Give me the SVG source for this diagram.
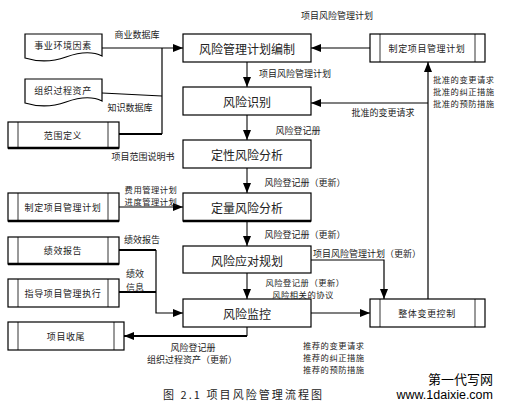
<svg xmlns="http://www.w3.org/2000/svg" width="512" height="408" viewBox="0 0 512 408">
<defs>
<marker id="ah" viewBox="0 0 10 8" refX="10" refY="4" markerWidth="10" markerHeight="8" markerUnits="userSpaceOnUse" orient="auto">
<path d="M0,0 L10,4 L0,8 Z" fill="#000"/>
</marker>
</defs>
<style>
text{font-family:"Noto Sans CJK SC","Liberation Sans",sans-serif;fill:#222;}
.box{fill:#fff;stroke:#000;stroke-width:1.2;}
.main{font-size:12px;text-anchor:middle;dominant-baseline:central;}
.side{font-size:9px;text-anchor:middle;dominant-baseline:central;letter-spacing:0.6px;}
.lbl{font-size:9px;dominant-baseline:central;}
.st{font-size:8.3px;letter-spacing:0.5px;}
.c{text-anchor:middle;}
.ln{fill:none;stroke:#000;stroke-width:1.2;}
.thick{fill:none;stroke:#000;stroke-width:2.2;}
.gray{fill:none;stroke:#555;stroke-width:1.6;}
.arr{marker-end:url(#ah);}
.inner{stroke:#000;stroke-width:0.8;}
.bot{stroke:#000;stroke-width:2.4;}
</style>
<rect width="512" height="408" fill="#fff"/>

<g id="connectors">
<path class="ln arr" d="M102,48 H183"/>
<path class="ln" d="M162,48 V134"/>
<path class="ln" d="M102,93 L162,96"/>
<path class="thick" d="M119,134 H162"/>
<path class="ln arr" d="M119,207 H183"/>
<path class="thick" d="M119,250 H156"/>
<path class="thick" d="M119,292 H156"/>
<path class="ln arr" d="M156,250 V313 H183"/>
<path class="gray arr" d="M247,62 V87"/>
<path class="gray arr" d="M247,115 V140"/>
<path class="gray arr" d="M247,168 V193"/>
<path class="gray arr" d="M247,221 V246"/>
<path class="gray arr" d="M247,273 V299"/>
<path class="gray" d="M247,327 V336"/>
<path class="thick arr" d="M247,336 H124"/>
<path class="ln arr" d="M370,48 H311"/>
<path class="ln arr" d="M428,299 V62"/>
<path class="ln arr" d="M428,103 H311"/>
<path class="ln arr" d="M311,260 H384 V299"/>
<path class="ln arr" d="M311,313 H370"/>
</g>

<g id="n-env">
<path class="box" d="M25,34 H102 V56 C92,51 80,52 66,57 C52,62 38,62 25,58 Z"/>
<text class="side" x="63" y="45">事业环境因素</text>
</g>
<g id="n-opa">
<path class="box" d="M25,79 H102 V101 C92,96 80,97 66,102 C52,107 38,107 25,103 Z"/>
<text class="side" x="63" y="90">组织过程资产</text>
</g>
<g id="n-scope">
<rect class="box" x="8" y="122" width="111" height="26"/>
<line class="inner" x1="18" y1="122" x2="18" y2="148"/>
<line class="inner" x1="108" y1="122" x2="108" y2="148"/>
<line class="bot" x1="8" y1="148" x2="119" y2="148"/>
<text class="side" x="63" y="135">范围定义</text>
</g>
<g id="n-pmp-left">
<rect class="box" x="8" y="193" width="111" height="28"/>
<line class="inner" x1="18" y1="193" x2="18" y2="221"/>
<line class="inner" x1="108" y1="193" x2="108" y2="221"/>
<line class="bot" x1="8" y1="221" x2="119" y2="221"/>
<text class="side" x="63" y="207">制定项目管理计划</text>
</g>
<g id="n-perf">
<rect class="box" x="8" y="237" width="111" height="27"/>
<line class="inner" x1="18" y1="237" x2="18" y2="264"/>
<line class="inner" x1="108" y1="237" x2="108" y2="264"/>
<line class="bot" x1="8" y1="264" x2="119" y2="264"/>
<text class="side" x="63" y="250">绩效报告</text>
</g>
<g id="n-direct">
<rect class="box" x="8" y="279" width="111" height="28"/>
<line class="inner" x1="18" y1="279" x2="18" y2="307"/>
<line class="inner" x1="108" y1="279" x2="108" y2="307"/>
<text class="side" x="63" y="293">指导项目管理执行</text>
</g>
<g id="n-close">
<rect class="box" x="8" y="322" width="116" height="28"/>
<line class="inner" x1="18" y1="322" x2="18" y2="350"/>
<line class="inner" x1="114" y1="322" x2="114" y2="350"/>
<text class="side" x="66" y="336">项目收尾</text>
</g>

<g id="n-plan">
<rect class="box" x="183" y="34" width="128" height="28"/>
<text class="main" x="247" y="48">风险管理计划编制</text>
</g>
<g id="n-ident">
<rect class="box" x="183" y="87" width="128" height="28"/>
<text class="main" x="247" y="101">风险识别</text>
</g>
<g id="n-qual">
<rect class="box" x="183" y="140" width="128" height="28"/>
<text class="main" x="247" y="154">定性风险分析</text>
</g>
<g id="n-quant">
<rect class="box" x="183" y="193" width="128" height="28"/>
<line class="bot" x1="183" y1="221" x2="311" y2="221"/>
<text class="main" x="247" y="207">定量风险分析</text>
</g>
<g id="n-resp">
<rect class="box" x="183" y="246" width="128" height="27"/>
<text class="main" x="247" y="260">风险应对规划</text>
</g>
<g id="n-monitor">
<rect class="box" x="183" y="299" width="128" height="28"/>
<text class="main" x="247" y="313">风险监控</text>
</g>

<g id="n-pmp-right">
<rect class="box" x="370" y="34" width="115" height="28"/>
<line class="inner" x1="380" y1="34" x2="380" y2="62"/>
<line class="inner" x1="475" y1="34" x2="475" y2="62"/>
<text class="side" x="427" y="48">制定项目管理计划</text>
</g>
<g id="n-icc">
<rect class="box" x="370" y="299" width="115" height="28"/>
<line class="inner" x1="380" y1="299" x2="380" y2="327"/>
<line class="inner" x1="475" y1="299" x2="475" y2="327"/>
<text class="side" x="427" y="313">整体变更控制</text>
</g>

<g id="labels">
<text class="lbl c" x="337" y="15">项目风险管理计划</text>
<text class="lbl c" x="137" y="34">商业数据库</text>
<text class="lbl c" x="130" y="107">知识数据库</text>
<text class="lbl c" x="143" y="156">项目范围说明书</text>
<text class="lbl st c" x="151" y="189">费用管理计划</text>
<text class="lbl st c" x="151" y="201">进度管理计划</text>
<text class="lbl c" x="142" y="239">绩效报告</text>
<text class="lbl c" x="135" y="273">绩效</text>
<text class="lbl c" x="135" y="287">信息</text>
<text class="lbl c" x="193" y="347">风险登记册</text>
<text class="lbl c" x="192" y="359">组织过程资产（更新）</text>
<text class="lbl c" x="295" y="73">项目风险管理计划</text>
<text class="lbl c" x="298" y="130">风险登记册</text>
<text class="lbl c" x="305" y="182">风险登记册（更新）</text>
<text class="lbl c" x="305" y="234">风险登记册（更新）</text>
<text class="lbl" x="313" y="253">项目风险管理计划（更新）</text>
<text class="lbl st c" x="305" y="282">风险登记册（更新）</text>
<text class="lbl st c" x="303" y="294">风险相关的协议</text>
<text class="lbl c" x="383" y="112">批准的变更请求</text>
<text class="lbl st" x="433" y="79">批准的变更请求</text>
<text class="lbl st" x="433" y="91">批准的纠正措施</text>
<text class="lbl st" x="433" y="103">批准的预防措施</text>
<text class="lbl st" x="303" y="345">推荐的变更请求</text>
<text class="lbl st" x="303" y="357">推荐的纠正措施</text>
<text class="lbl st" x="303" y="369">推荐的预防措施</text>
<text x="163" y="399" font-size="11" textLength="159" lengthAdjust="spacing">图 2.1 项目风险管理流程图</text>
<text x="493" y="384" font-size="13" text-anchor="end" style="fill:#000">第一代写网</text>
<text x="493" y="399" font-size="12.5" text-anchor="end" style="fill:#000;font-family:'Liberation Sans',sans-serif">www.1daixie.com</text>
</g>
</svg>
